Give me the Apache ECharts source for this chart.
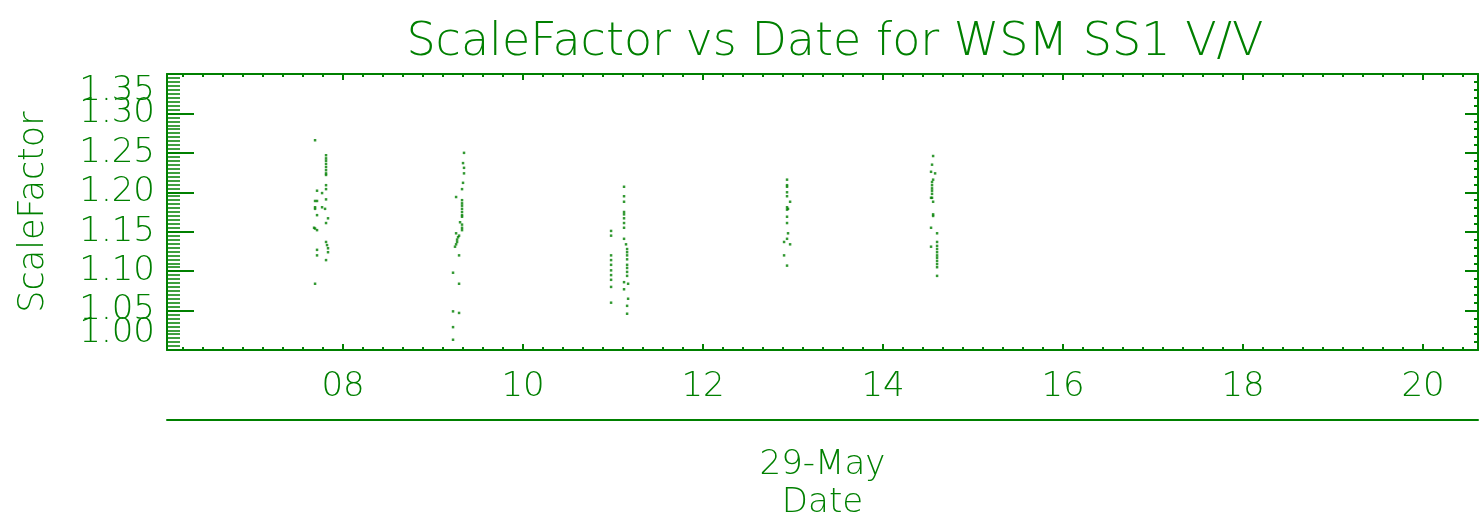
<!DOCTYPE html>
<html>
<head>
<meta charset="utf-8">
<script src="https://cdn.jsdelivr.net/npm/echarts@6/dist/echarts.min.js"></script>
<style>
	html, body { margin: 0; padding: 0; background: #fff; }
	#chart { width: 1481px; height: 520px; }
</style>
</head>
<body>
<div id="chart"></div>
<script>
const green = '#008000'
const font = 'DejaVu Sans'

// x range in hours of 29-May
const xMin = 6.044
const xMax = 20.61
const hourTicks = [ 8, 10, 12, 14, 16, 18, 20 ]

// y range, end labels are pushed inside the frame
const yMin = 1
const yMax = 1.35

// [hour, scale factor] per pass
const pass1 = [
	[ 7.689, 1.266 ],
	[ 7.811, 1.247 ], [ 7.811, 1.243 ], [ 7.811, 1.24 ], [ 7.811, 1.236 ], [ 7.811, 1.232 ], [ 7.811, 1.228 ], [ 7.811, 1.224 ], [ 7.811, 1.222 ],
	[ 7.811, 1.209 ], [ 7.811, 1.204 ],
	[ 7.711, 1.202 ], [ 7.767, 1.199 ], [ 7.811, 1.191 ],
	[ 7.689, 1.189 ], [ 7.711, 1.189 ],
	[ 7.689, 1.181 ], [ 7.689, 1.179 ], [ 7.767, 1.181 ], [ 7.8, 1.179 ],
	[ 7.711, 1.171 ], [ 7.833, 1.167 ], [ 7.811, 1.161 ],
	[ 7.678, 1.155 ], [ 7.689, 1.154 ], [ 7.711, 1.152 ],
	[ 7.811, 1.137 ], [ 7.822, 1.133 ], [ 7.833, 1.129 ], [ 7.833, 1.124 ],
	[ 7.711, 1.127 ], [ 7.711, 1.12 ],
	[ 7.811, 1.114 ],
	[ 7.689, 1.084 ]
]

const pass2 = [
	[ 9.344, 1.25 ],
	[ 9.333, 1.237 ], [ 9.344, 1.231 ], [ 9.344, 1.224 ],
	[ 9.333, 1.212 ], [ 9.322, 1.204 ],
	[ 9.256, 1.194 ],
	[ 9.322, 1.19 ], [ 9.322, 1.186 ], [ 9.322, 1.183 ], [ 9.322, 1.179 ], [ 9.322, 1.175 ], [ 9.322, 1.171 ], [ 9.322, 1.169 ],
	[ 9.3, 1.162 ], [ 9.322, 1.159 ], [ 9.322, 1.155 ], [ 9.322, 1.152 ],
	[ 9.289, 1.145 ], [ 9.256, 1.148 ], [ 9.278, 1.143 ], [ 9.267, 1.14 ], [ 9.267, 1.137 ], [ 9.256, 1.134 ], [ 9.244, 1.131 ],
	[ 9.289, 1.12 ],
	[ 9.222, 1.098 ],
	[ 9.289, 1.084 ],
	[ 9.222, 1.049 ], [ 9.289, 1.047 ],
	[ 9.222, 1.029 ],
	[ 9.222, 1.013 ]
]

const pass3 = [
	[ 11.122, 1.207 ],
	[ 11.122, 1.195 ], [ 11.122, 1.188 ],
	[ 11.122, 1.175 ], [ 11.122, 1.172 ], [ 11.122, 1.167 ],
	[ 11.122, 1.161 ], [ 11.122, 1.155 ],
	[ 10.978, 1.151 ], [ 10.978, 1.145 ],
	[ 11.122, 1.141 ], [ 11.144, 1.134 ],
	[ 11.156, 1.128 ], [ 11.156, 1.124 ], [ 11.156, 1.12 ], [ 11.156, 1.115 ],
	[ 10.978, 1.12 ], [ 10.978, 1.114 ], [ 10.978, 1.108 ], [ 10.978, 1.101 ], [ 10.978, 1.095 ], [ 10.978, 1.089 ], [ 10.978, 1.08 ],
	[ 11.156, 1.108 ], [ 11.156, 1.104 ], [ 11.156, 1.099 ], [ 11.156, 1.094 ],
	[ 11.122, 1.086 ], [ 11.167, 1.084 ],
	[ 11.122, 1.077 ],
	[ 11.167, 1.065 ], [ 10.978, 1.06 ],
	[ 11.156, 1.056 ],
	[ 11.156, 1.046 ]
]

const pass4 = [
	[ 12.933, 1.216 ], [ 12.933, 1.209 ], [ 12.933, 1.207 ], [ 12.933, 1.2 ], [ 12.933, 1.195 ], [ 12.967, 1.188 ],
	[ 12.933, 1.181 ], [ 12.933, 1.178 ], [ 12.944, 1.179 ],
	[ 12.933, 1.169 ], [ 12.933, 1.161 ], [ 12.944, 1.148 ],
	[ 12.933, 1.141 ], [ 12.9, 1.137 ], [ 12.967, 1.134 ],
	[ 12.9, 1.12 ], [ 12.933, 1.107 ]
]

const pass5 = [
	[ 14.556, 1.246 ],
	[ 14.544, 1.235 ], [ 14.533, 1.226 ], [ 14.578, 1.224 ],
	[ 14.556, 1.216 ],
	[ 14.544, 1.213 ], [ 14.544, 1.209 ], [ 14.544, 1.205 ], [ 14.544, 1.202 ], [ 14.544, 1.198 ], [ 14.544, 1.193 ],
	[ 14.533, 1.193 ], [ 14.556, 1.188 ],
	[ 14.556, 1.172 ], [ 14.556, 1.17 ],
	[ 14.533, 1.155 ], [ 14.6, 1.148 ], [ 14.6, 1.137 ], [ 14.533, 1.131 ],
	[ 14.6, 1.132 ], [ 14.6, 1.128 ], [ 14.6, 1.124 ], [ 14.6, 1.12 ], [ 14.6, 1.117 ], [ 14.6, 1.113 ], [ 14.6, 1.109 ], [ 14.6, 1.105 ],
	[ 14.6, 1.094 ]
]

const passes = [ pass1, pass2, pass3, pass4, pass5 ]

// minor ticks: 9 per 2 hours
const minorHours = []
for (let k = 1; k < 70; k++) {
	const h = 6 + k * 2 / 9
	if (h > xMax) break
	if (h > xMin) minorHours.push(h)
}

const line = { color: green, width: 2 }
const labelText = { color: green, fontFamily: font, fontSize: 34, fontWeight: 'lighter' }

const xAxisOf = (position, len, values, showLine) => ({
	type: 'value',
	min: xMin,
	max: xMax,
	position,
	axisLine: { show: showLine, onZero: false, lineStyle: line },
	axisTick: { show: true, inside: true, length: len, customValues: values, lineStyle: line },
	axisLabel: { show: false },
	splitLine: { show: false }
})

// a label-only y axis for one end value
const yEndLabel = (value, align) => ({
	type: 'value',
	min: yMin,
	max: yMax,
	position: 'left',
	axisLine: { show: false },
	axisTick: { show: false },
	axisLabel: {
		...labelText,
		margin: 12,
		customValues: [ value ],
		verticalAlign: align,
		formatter: (v) => v.toFixed(2)
	},
	splitLine: { show: false }
})

const bottomMajor = xAxisOf('bottom', 6, hourTicks, true)
bottomMajor.axisLabel = {
	...labelText,
	show: true,
	customValues: hourTicks,
	margin: 20,
	formatter: (v) => (v < 10 ? '0' : '') + Math.round(v)
}

const dateAxis = xAxisOf('bottom', 0, [], true)
dateAxis.offset = 70
dateAxis.axisTick = { show: false }
dateAxis.name = '29-May\nDate'
dateAxis.nameLocation = 'middle'
dateAxis.nameGap = 26
dateAxis.nameTextStyle = { ...labelText, lineHeight: 38 }

const option = {
	animation: false,
	title: {
		text: 'ScaleFactor vs Date for WSM SS1 V/V',
		left: 830,
		top: 15,
		textAlign: 'center',
		textStyle: { color: green, fontFamily: font, fontSize: 46, fontWeight: 'lighter' }
	},
	grid: { left: 167, right: 3, top: 74, bottom: 170, outerBoundsMode: 'none', containLabel: false },
	xAxis: [
		bottomMajor,
		xAxisOf('bottom', 3, minorHours, false),
		xAxisOf('top', 6, hourTicks, true),
		xAxisOf('top', 3, minorHours, false),
		dateAxis
	],
	yAxis: [
		{
			type: 'value',
			min: yMin,
			max: yMax,
			interval: 0.05,
			position: 'left',
			name: 'ScaleFactor',
			nameLocation: 'middle',
			nameGap: 116,
			nameRotate: 90,
			nameTextStyle: { ...labelText, fontSize: 35 },
			axisLine: { show: true, lineStyle: line },
			axisTick: { show: true, inside: true, length: 27, lineStyle: line },
			minorTick: { show: true, splitNumber: 10, length: 13, lineStyle: { color: green, width: 1.5 } },
			axisLabel: {
				...labelText,
				margin: 12,
				showMinLabel: false,
				showMaxLabel: false,
				formatter: (v) => v.toFixed(2)
			},
			splitLine: { show: false }
		},
		{
			type: 'value',
			min: yMin,
			max: yMax,
			interval: 0.05,
			position: 'right',
			axisLine: { show: true, lineStyle: line },
			axisTick: { show: true, inside: true, length: 13, lineStyle: line },
			minorTick: { show: true, splitNumber: 5, length: 4, lineStyle: line },
			axisLabel: { show: false },
			splitLine: { show: false }
		},
		yEndLabel(yMax, 'top'),
		yEndLabel(yMin, 'bottom')
	],
	series: passes.map((data) => ({
		type: 'scatter',
		xAxisIndex: 0,
		yAxisIndex: 0,
		symbol: 'rect',
		symbolSize: 2.5,
		itemStyle: { color: green },
		data
	}))
}

echarts.init(document.getElementById('chart')).setOption(option)
</script>
</body>
</html>
